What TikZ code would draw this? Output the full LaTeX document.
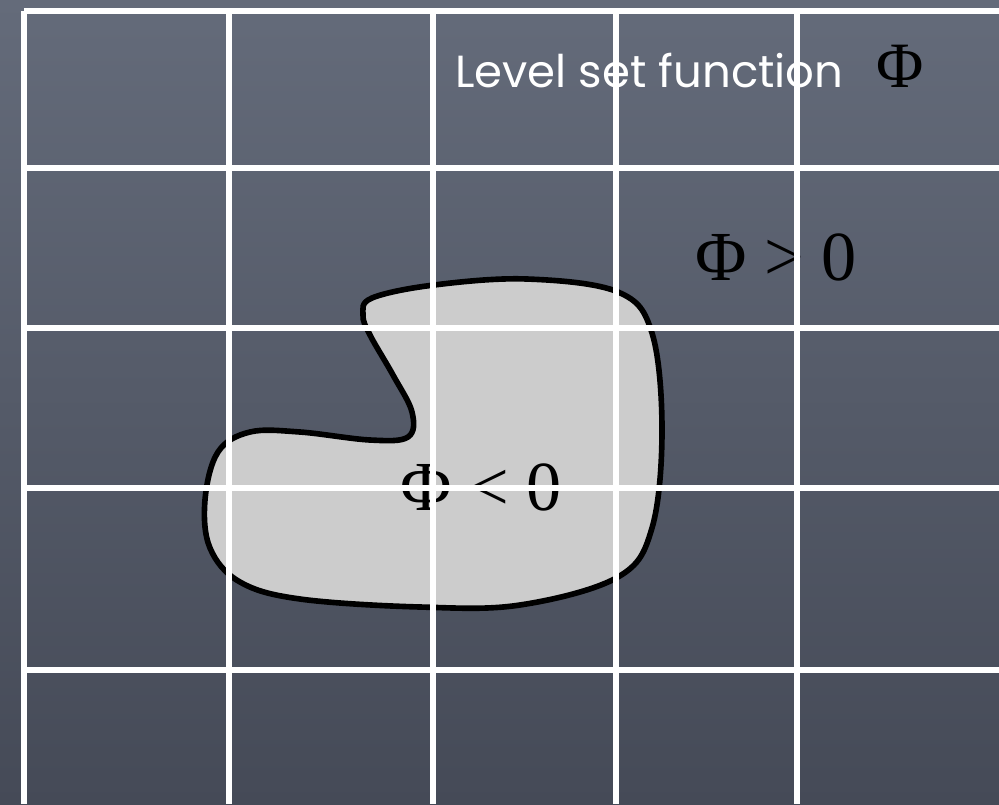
\documentclass[tikz,border=0pt]{standalone}
\usepackage{fontspec}
\setmainfont{Liberation Serif}
\newfontfamily\handfont{Poppins}
\definecolor{slatetop}{HTML}{646B7A}
\definecolor{slatebot}{HTML}{454A57}
\definecolor{regionfill}{HTML}{CCCCCC}
\usetikzlibrary{positioning}

\begin{document}
\begin{tikzpicture}[
    x=0.025cm, y=-0.025cm,
    gridline/.style={draw=white, line width=3.6pt},
    region/.style={draw=black, fill=regionfill, line width=4pt},
    signlabel/.style={inner sep=0pt, anchor=base west, font=\fontsize{50}{50}\selectfont},
    titlelabel/.style={inner sep=0pt, anchor=base west, text=white, font=\handfont\fontsize{32}{32}\selectfont}
  ]
  % background
  \shade[top color=slatetop, bottom color=slatebot] (0,0) rectangle (999,804);
  \useasboundingbox (0,0) rectangle (999,804);

  % interface Phi = 0
  \draw[region] plot[smooth cycle, tension=0.6] coordinates {
    (372,298) (434,285) (527,279) (618,292) (652,333) (662,430) (652,528)
    (618,577) (520,605) (420,607) (300,599) (240,582) (210,548) (205,500)
    (218,452) (250,432) (300,432) (370,440) (408,437) (412,412) (393,375)
    (370,335) (363,315)};

  % labels
  \node[titlelabel] (title) at (455,87) {Level set function};
  \node[signlabel, font=\fontsize{46}{46}\selectfont] (phi) at (876,87) {Φ};
  \node[signlabel] (outside) at (695,280) {Φ > 0};
  \node[signlabel] (inside) at (400,510) {Φ < 0};

  % grid
  \foreach \x in {24,229,433,616,797} {\draw[gridline] (\x,11) -- (\x,804);}
  \foreach \y in {11,168,328,488,670} {\draw[gridline] (24,\y) -- (999,\y);}
\end{tikzpicture}
\end{document}
